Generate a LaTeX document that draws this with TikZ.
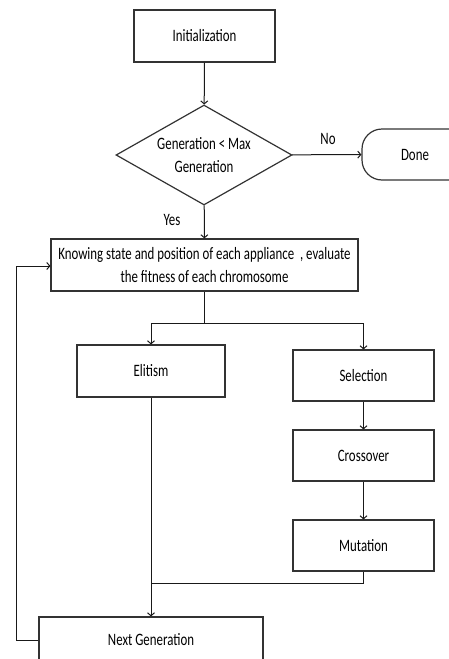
\documentclass[tikz,border=0pt]{standalone}
\usepackage{fontspec}
\setmainfont{Carlito}[FakeStretch=0.74]
\usetikzlibrary{shapes.geometric,arrows.meta}
\begin{document}
\begin{tikzpicture}[x=1pt,y=-1pt,
  every node/.style={font=\fontsize{17.4}{23}\selectfont, text=black},
  box/.style={draw=black!80, line width=1.2pt, rectangle, inner sep=0pt, align=center},
  dia/.style={draw=black!80, line width=1.2pt, diamond, inner sep=0pt, aspect=1.76, align=center},
  term/.style={draw=black!80, line width=1.2pt, rectangle, rounded corners=20pt, inner sep=0pt},
  line/.style={draw=black!90, line width=1pt},
  arr/.style={line, -{Straight Barb[length=3pt,width=7pt]}}]
\useasboundingbox (0,0) rectangle (449,659);
\clip (0,0) rectangle (449,659);
\node[box, minimum width=141pt, minimum height=52pt] (init) at (204.5,36) {Initialization};
\node[dia, minimum width=176pt, minimum height=100pt] (dec) at (204,155) {Generation < Max\\Generation};
\node[term, minimum width=106pt, minimum height=51pt] (done) at (415,154.5) {Done};
\node[box, minimum width=307pt, minimum height=52pt] (know) at (204.5,265) {Knowing state and position of each appliance\ \ , evaluate\\the fitness of each chromosome};
\node[box, minimum width=148pt, minimum height=52pt] (elit) at (151,371) {Elitism};
\node[box, minimum width=141pt, minimum height=51pt] (sel) at (363.5,375.5) {Selection};
\node[box, minimum width=141pt, minimum height=51pt] (cross) at (363.5,455.5) {Crossover};
\node[box, minimum width=141pt, minimum height=51pt] (mut) at (363.5,545.5) {Mutation};
\node[box, minimum width=224pt, minimum height=46pt] (next) at (151,640) {Next Generation};
\node (no) at (328,139) {No};
\node (yes) at (172,220) {Yes};
\coordinate (sp) at (204.5,323);
\coordinate (mg) at (151,583);
\coordinate (fb) at (16,640);
\draw[arr] (init) -- (dec);
\draw[arr] (dec) -- (done);
\draw[arr] (dec) -- (know);
\draw[line] (know) -- (sp);
\draw[arr] (sp) -| (elit.north);
\draw[arr] (sp) -| (sel.north);
\draw[arr] (sel) -- (cross);
\draw[arr] (cross) -- (mut);
\draw[line] (mut.south) |- (mg);
\draw[arr] (elit) -- (next);
\draw[arr] (next.west) -- (fb) |- ([yshift=-1pt]know.west);
\end{tikzpicture}
\end{document}
